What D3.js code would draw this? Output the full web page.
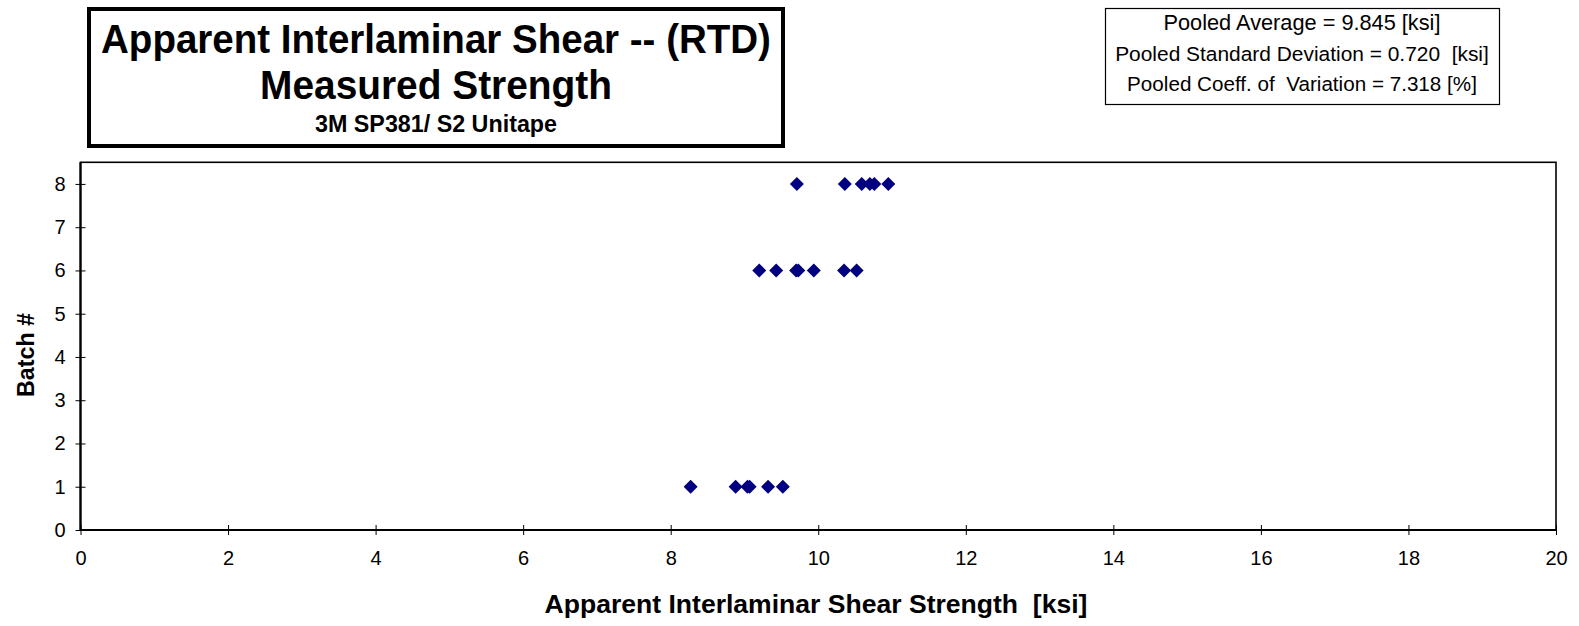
<!DOCTYPE html>
<html>
<head>
<meta charset="utf-8">
<script src="https://cdn.jsdelivr.net/npm/d3@7"></script>
<style>
  html, body { margin: 0; padding: 0; background: #fff; }
  svg { display: block; font-family: "Liberation Sans", Arial, sans-serif; }
  svg text { white-space: pre; }
</style>
</head>
<body>
<svg id="chart" width="1579" height="626"></svg>
<script>
// ---- data ----
const batches = [1, 6, 8];
const batch1Values = [8.27, 8.88, 9.04, 9.07, 9.32, 9.52];
const batch6Values = [9.20, 9.43, 9.70, 9.73, 9.94, 10.35, 10.52];
const batch8Values = [9.71, 10.36, 10.59, 10.70, 10.76, 10.95];
const xTicks = [0, 2, 4, 6, 8, 10, 12, 14, 16, 18, 20];
const yTicks = [0, 1, 2, 3, 4, 5, 6, 7, 8];
const titleLines = ["Apparent Interlaminar Shear -- (RTD)", "Measured Strength", "3M SP381/ S2 Unitape"];
const statLines = ["Pooled Average = 9.845 [ksi]", "Pooled Standard Deviation = 0.720  [ksi]", "Pooled Coeff. of  Variation = 7.318 [%]"];
const xLabel = "Apparent Interlaminar Shear Strength  [ksi]";
const yLabel = "Batch #";

const points = [];
[batch1Values, batch6Values, batch8Values].forEach((vals, i) => {
  vals.forEach(v => points.push({ batch: batches[i], value: v }));
});

const svg = d3.select("#chart");
const pLeft = 80.5, pRight = 1556, pTop = 162.3, pBottom = 530;
const x = d3.scaleLinear().domain([0, 20]).range([pLeft, pRight]);
const y = d3.scaleLinear().domain([0, 8.5]).range([pBottom, pTop]);

// plot frame
svg.append("rect").attr("x", pLeft).attr("y", pTop)
  .attr("width", pRight - pLeft).attr("height", pBottom - pTop)
  .attr("fill", "none").attr("stroke", "#000").attr("stroke-width", 1.6);

// axes
const xAxis = d3.axisBottom(x).tickValues(xTicks).tickSize(5).tickFormat(d3.format("d"));
const gx = svg.append("g").attr("transform", `translate(0,${pBottom})`).call(xAxis);
gx.select(".domain").attr("stroke", "#000").attr("stroke-width", 2.2).attr("d", `M${pLeft},0H${pRight}`);
gx.selectAll(".tick line").attr("y1", -5).attr("y2", 5).attr("stroke", "#000").attr("stroke-width", 1);
gx.selectAll(".tick text").attr("y", 29).attr("dy", "0.32em")
  .style("font-size", "20px").style("font-family", "Liberation Sans, Arial, sans-serif").attr("fill", "#000");

const yAxis = d3.axisLeft(y).tickValues(yTicks).tickSize(5).tickFormat(d3.format("d"));
const gy = svg.append("g").attr("transform", `translate(${pLeft},0)`).call(yAxis);
gy.select(".domain").attr("stroke", "#000").attr("stroke-width", 2.2).attr("d", `M0,${pBottom}V${pTop}`);
gy.selectAll(".tick line").attr("x1", -5).attr("x2", 5).attr("stroke", "#000").attr("stroke-width", 1);
gy.selectAll(".tick text").attr("x", -15)
  .style("font-size", "20px").style("font-family", "Liberation Sans, Arial, sans-serif").attr("fill", "#000");

// points
svg.append("g").selectAll("path").data(points).join("path")
  .attr("d", "M0,-7L7,0L0,7L-7,0Z")
  .attr("transform", d => `translate(${x(d.value)},${y(d.batch)})`)
  .attr("fill", "#000080");

// helper to fit text width
function fitText(sel, targetWidth) {
  const w = sel.node().getComputedTextLength();
  const fs = parseFloat(sel.style("font-size"));
  if (w > 0) sel.style("font-size", (fs * targetWidth / w) + "px");
}

// title box
svg.append("rect").attr("x", 89).attr("y", 9).attr("width", 694).attr("height", 137)
  .attr("fill", "#fff").attr("stroke", "#000").attr("stroke-width", 4);
const tCx = 436;
function titleText(str, baseline, fs, width, sy) {
  const t = svg.append("text").attr("x", 0).attr("y", 0).attr("text-anchor", "middle")
    .attr("transform", `translate(${tCx},${baseline}) scale(1,${sy})`)
    .style("font-weight", "bold").style("font-size", fs + "px").text(str);
  fitText(t, width);
  return t;
}
titleText(titleLines[0], 53, 34, 670, 1.07);
titleText(titleLines[1], 99, 34, 352, 1.05);
titleText(titleLines[2], 132, 21, 242, 1.05);

// stats box
svg.append("rect").attr("x", 1105.5).attr("y", 8.5).attr("width", 394).attr("height", 96)
  .attr("fill", "#fff").attr("stroke", "#000").attr("stroke-width", 1.2);
const sCx = 1302;
const statWidths = [277, 374, 350];
statLines.forEach((s, i) => {
  const t = svg.append("text").attr("x", sCx).attr("y", 30 + i * 30.5).attr("text-anchor", "middle")
    .style("font-size", "19px").text(s);
  fitText(t, statWidths[i]);
});

// axis titles
const xt = svg.append("text").attr("x", 816).attr("y", 613).attr("text-anchor", "middle")
  .style("font-weight", "bold").style("font-size", "22px").text(xLabel);
fitText(xt, 543);
const yt = svg.append("text").attr("transform", "translate(34,355) rotate(-90)").attr("text-anchor", "middle")
  .style("font-weight", "bold").style("font-size", "22px").text(yLabel);
fitText(yt, 84);
</script>
</body>
</html>
